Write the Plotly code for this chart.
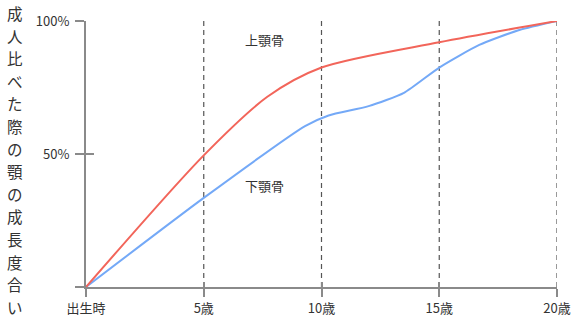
import plotly.graph_objects as go

# Growth of the jaw bones relative to adult size (%), by age
upper_age = [0, 5, 7.7, 10, 15, 20]
upper_val = [0, 49.5, 71.5, 82.5, 92, 100]

lower_age = [0, 5, 9.3, 10.3, 12, 13.5, 15, 16.7, 18.4, 20]
lower_val = [0, 33.5, 60.5, 64.5, 68, 73, 82.5, 91, 96.6, 100]

x_ticks = [0, 5, 10, 15, 20]
x_labels = ["出生時", "5歳", "10歳", "15歳", "20歳"]
y_ticks = [0, 50, 100]
y_labels = ["", "50%", "100%"]

series_names = ["上顎骨", "下顎骨"]
y_title = "成人比べた際の顎の成長度合い"

FONT = "Noto Sans CJK JP"
RED = "#f2655a"
BLUE = "#74a9f7"
AXIS = "#8a8a8a"
TEXT = "#333333"

W, H = 577, 327
M = dict(l=86, r=20, t=21, b=40)
plot_h = H - M["t"] - M["b"]

fig = go.Figure()

# reference lines at every 5 years
for xv in x_ticks[1:]:
    fig.add_shape(type="line", xref="x", yref="y", x0=xv, x1=xv, y0=0, y1=100,
                  line=dict(color="#555555", width=1.2, dash="5px,4px"), layer="below")

fig.add_trace(go.Scatter(x=lower_age, y=lower_val, mode="lines", name=series_names[1],
                         line=dict(color=BLUE, width=2, shape="spline", smoothing=0.6),
                         hoverinfo="skip"))
fig.add_trace(go.Scatter(x=upper_age, y=upper_val, mode="lines", name=series_names[0],
                         line=dict(color=RED, width=2, shape="spline", smoothing=0.8),
                         hoverinfo="skip"))
# invisible trace so the overlay axes (inner tick halves) are drawn
fig.add_trace(go.Scatter(x=[0], y=[0], xaxis="x2", yaxis="y2", mode="markers",
                         marker=dict(opacity=0), showlegend=False, hoverinfo="skip"))

fig.add_annotation(x=7.6, y=93, xref="x", yref="y", text=series_names[0], showarrow=False,
                   font=dict(family=FONT, size=13, color=TEXT))
fig.add_annotation(x=7.6, y=38, xref="x", yref="y", text=series_names[1], showarrow=False,
                   font=dict(family=FONT, size=13, color=TEXT))

# vertical axis title, one character per annotation, stacked top to bottom
step = 22.6
top_px = 13
for i, ch in enumerate(y_title):
    py = top_px + i * step
    fig.add_annotation(x=-71 / (W - M["l"] - M["r"]), y=(H - M["b"] - py) / plot_h,
                       xref="paper", yref="paper", text=ch, showarrow=False,
                       xanchor="center", yanchor="middle",
                       font=dict(family=FONT, size=15.5, color=TEXT))

fig.update_layout(
    width=W, height=H,
    margin=M,
    paper_bgcolor="white", plot_bgcolor="white",
    showlegend=False,
    font=dict(family=FONT, size=13, color=TEXT),
    xaxis=dict(range=[0, 20], tickvals=x_ticks, ticktext=x_labels, automargin=False,
               showgrid=False, zeroline=False, showline=True, linecolor=AXIS, linewidth=2,
               ticks="outside", ticklen=8, tickwidth=1.5, tickcolor=AXIS,
               ticklabelstandoff=0,
               tickfont=dict(family=FONT, size=13, color=TEXT), fixedrange=True),
    yaxis=dict(range=[0, 100], tickvals=y_ticks, ticktext=y_labels, automargin=False,
               showgrid=False, zeroline=False, showline=True, linecolor=AXIS, linewidth=2,
               ticks="outside", ticklen=9, tickwidth=1.5, tickcolor=AXIS,
               ticklabelstandoff=3,
               tickfont=dict(family=FONT, size=13, color=TEXT), fixedrange=True),
    xaxis2=dict(range=[0, 20], overlaying="x", anchor="y2", side="bottom", automargin=False,
                tickvals=x_ticks, showticklabels=False, showgrid=False, zeroline=False,
                showline=False, ticks="inside", ticklen=5, tickwidth=1.5, tickcolor=AXIS,
                fixedrange=True),
    yaxis2=dict(range=[0, 100], overlaying="y", anchor="x2", side="left", automargin=False,
                tickvals=y_ticks, showticklabels=False, showgrid=False, zeroline=False,
                showline=False, ticks="inside", ticklen=8, tickwidth=1.5, tickcolor=AXIS,
                fixedrange=True),
)

fig.write_html("out.html", config={"displayModeBar": False})
